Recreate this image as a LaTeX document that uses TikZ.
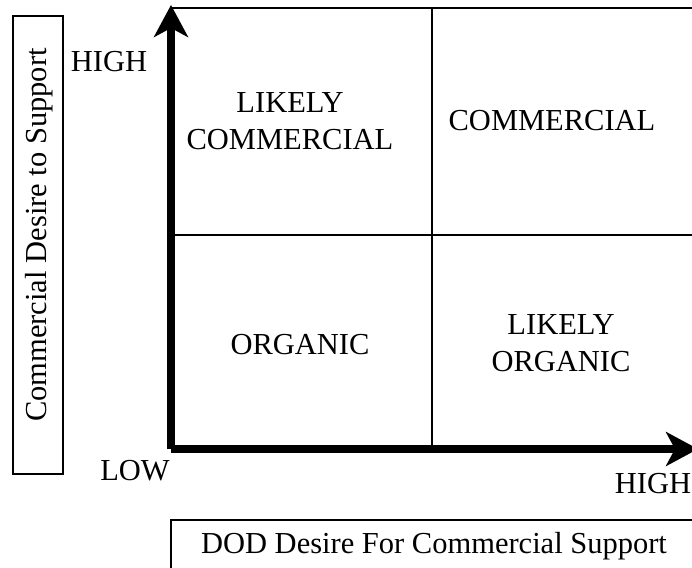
\documentclass[tikz,border=0pt]{standalone}
\usepackage{fontspec}
\setmainfont{Liberation Serif}
\usetikzlibrary{arrows.meta}
\begin{document}
\begin{tikzpicture}[x=1pt,y=-1pt,
  lbl/.style={inner sep=0pt,font=\fontsize{30.5}{37}\selectfont,align=center},
  axis/.style={line width=8pt,line cap=butt,-{Stealth[length=32pt,width=34pt,inset=9pt]}},
  grid/.style={line width=2.5pt},
  frame/.style={draw,line width=2pt}]
\clip (0,0) rectangle (692,567);
% axes
\coordinate (O) at (171,449);
\coordinate (Ytip) at (171,5);
\coordinate (Xtip) at (698,449);
\draw[axis] (O) -- (Ytip);
\draw[axis] (O) -- (Xtip);
% grid lines
\coordinate (TL) at (170,8);
\coordinate (TR) at (700,8);
\coordinate (ML) at (171,235);
\coordinate (MR) at (700,235);
\coordinate (MT) at (432,8);
\coordinate (MB) at (432,446);
\draw[grid] (TL) -- (TR);
\draw[grid] (ML) -- (MR);
\draw[grid] (MT) -- (MB);
% quadrant labels
\node[lbl] (lc) at (290,121) {LIKELY\\COMMERCIAL};
\node[lbl] (c) at (552,121) {COMMERCIAL};
\node[lbl] (o) at (300,345) {ORGANIC};
\node[lbl] (lo) at (561,343) {LIKELY\\ORGANIC};
% axis end labels
\node[lbl,anchor=base] (yhigh) at (109,72) {HIGH};
\node[lbl,anchor=base] (low) at (135,480) {LOW};
\node[lbl,anchor=base] (xhigh) at (653,493) {HIGH};
% axis titles
\draw[frame] (13,16) rectangle (63,474);
\node[lbl,rotate=90,anchor=base] (ytitle) at (46,235) {Commercial Desire to Support};
\draw[frame] (171,520) rectangle (710,590);
\node[lbl,anchor=base] (xtitle) at (434,553) {DOD Desire For Commercial Support};
\end{tikzpicture}
\end{document}
